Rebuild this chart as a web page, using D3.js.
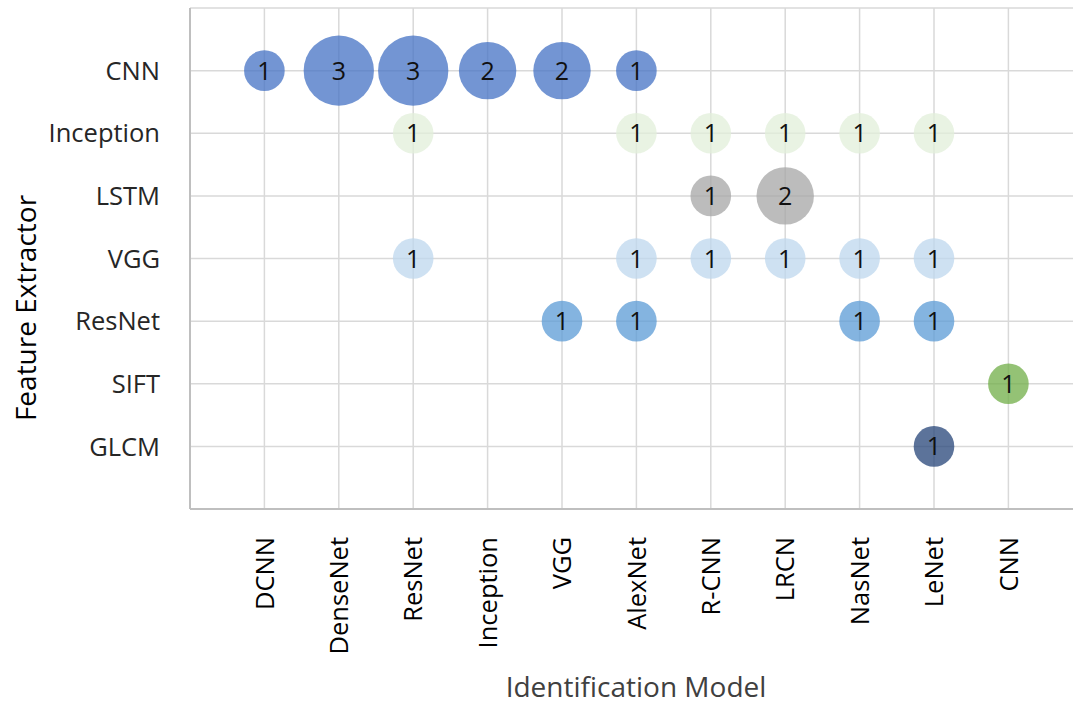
<!DOCTYPE html>
<html>
<head>
<meta charset="utf-8">
<script src="https://cdn.jsdelivr.net/npm/d3@7"></script>
<style>
  body { margin: 0; background: #fff; }
  text { font-family: "Open Sans", sans-serif; fill: #000; }
</style>
</head>
<body>
<div id="chart"></div>
<script>
// categories
var models = ['DCNN', 'DenseNet', 'ResNet', 'Inception', 'VGG', 'AlexNet', 'R-CNN', 'LRCN', 'NasNet', 'LeNet', 'CNN'];
var extractors = ['CNN', 'Inception', 'LSTM', 'VGG', 'ResNet', 'SIFT', 'GLCM'];

// one list per feature extractor: [model, count]
var cnnRow = [['DCNN', 1], ['DenseNet', 3], ['ResNet', 3], ['Inception', 2], ['VGG', 2], ['AlexNet', 1]];
var inceptionRow = [['ResNet', 1], ['AlexNet', 1], ['R-CNN', 1], ['LRCN', 1], ['NasNet', 1], ['LeNet', 1]];
var lstmRow = [['R-CNN', 1], ['LRCN', 2]];
var vggRow = [['ResNet', 1], ['AlexNet', 1], ['R-CNN', 1], ['LRCN', 1], ['NasNet', 1], ['LeNet', 1]];
var resnetRow = [['VGG', 1], ['AlexNet', 1], ['NasNet', 1], ['LeNet', 1]];
var siftRow = [['CNN', 1]];
var glcmRow = [['LeNet', 1]];

var rows = {CNN: cnnRow, Inception: inceptionRow, LSTM: lstmRow, VGG: vggRow, ResNet: resnetRow, SIFT: siftRow, GLCM: glcmRow};
var rowColors = {CNN: '#4472C4', Inception: '#E2EFDA', LSTM: '#A5A5A5', VGG: '#BDD7EE', ResNet: '#5B9BD5', SIFT: '#70AD47', GLCM: '#264478'};

var width = 1073, height = 707;
var margin = {left: 190, top: 8, bottom: 198};

var svg = d3.select('#chart').append('svg')
    .attr('width', width)
    .attr('height', height);

// x: category index 1..11, edges at 0 and 12
var x = d3.scaleLinear().domain([0, 12]).range([margin.left, margin.left + 12 * 74.4]);
// y: GLCM at 1, CNN at 7, top edge at 8
var y = d3.scaleLinear().domain([0, 8]).range([height - margin.bottom, margin.top]);
var r = d3.scaleSqrt().domain([0, 1]).range([0, 20.3]);

function xPos(m) { return x(models.indexOf(m) + 1); }
function yPos(e) { return y(extractors.length - extractors.indexOf(e)); }

// grid
var grid = svg.append('g');
grid.selectAll('.vgrid').data(d3.range(1, 13)).enter().append('line')
    .attr('x1', function (d) { return x(d); })
    .attr('x2', function (d) { return x(d); })
    .attr('y1', y(0)).attr('y2', y(8))
    .attr('stroke', '#d9d9d9').attr('stroke-width', 1.5);
grid.selectAll('.hgrid').data(d3.range(1, 9)).enter().append('line')
    .attr('y1', function (d) { return y(d); })
    .attr('y2', function (d) { return y(d); })
    .attr('x1', x(0)).attr('x2', width)
    .attr('stroke', '#d9d9d9').attr('stroke-width', 1.5);

// axis lines
svg.append('line').attr('x1', x(0)).attr('x2', x(0)).attr('y1', y(0)).attr('y2', y(8))
    .attr('stroke', '#bfbfbf').attr('stroke-width', 2);
svg.append('line').attr('x1', x(0)).attr('x2', width).attr('y1', y(0)).attr('y2', y(0))
    .attr('stroke', '#bfbfbf').attr('stroke-width', 2);

// bubbles
var points = [];
extractors.forEach(function (e) {
    rows[e].forEach(function (p) { points.push({ext: e, model: p[0], value: p[1]}); });
});

var bubbles = svg.append('g').selectAll('g').data(points).enter().append('g')
    .attr('transform', function (d) { return 'translate(' + xPos(d.model) + ',' + yPos(d.ext) + ')'; });

bubbles.append('circle')
    .attr('r', function (d) { return r(d.value); })
    .attr('fill', function (d) { return rowColors[d.ext]; })
    .attr('fill-opacity', 0.75);

bubbles.append('text')
    .attr('text-anchor', 'middle')
    .attr('dy', '0.36em')
    .style('font-size', '25px')
    .style('fill', '#111')
    .text(function (d) { return d.value; });

// y tick labels
svg.append('g').selectAll('text').data(extractors).enter().append('text')
    .attr('x', 160)
    .attr('y', function (d) { return yPos(d); })
    .attr('dy', '0.36em')
    .attr('text-anchor', 'end')
    .style('font-size', '25.5px')
    .style('fill', '#262626')
    .text(function (d) { return d; });

// x tick labels
svg.append('g').selectAll('text').data(models).enter().append('text')
    .attr('transform', function (d) { return 'translate(' + xPos(d) + ',537) rotate(-90)'; })
    .attr('dy', '0.36em')
    .attr('text-anchor', 'end')
    .style('font-size', '25.5px')
    .style('fill', '#000')
    .text(function (d) { return d; });

// axis titles
svg.append('text')
    .attr('transform', 'translate(26,308) rotate(-90)')
    .attr('text-anchor', 'middle')
    .attr('dy', '0.36em')
    .style('font-size', '28px')
    .style('fill', '#000')
    .text('Feature Extractor');

svg.append('text')
    .attr('x', 636).attr('y', 697)
    .attr('text-anchor', 'middle')
    .style('font-size', '28px')
    .style('fill', '#404040')
    .text('Identification Model');
</script>
</body>
</html>
